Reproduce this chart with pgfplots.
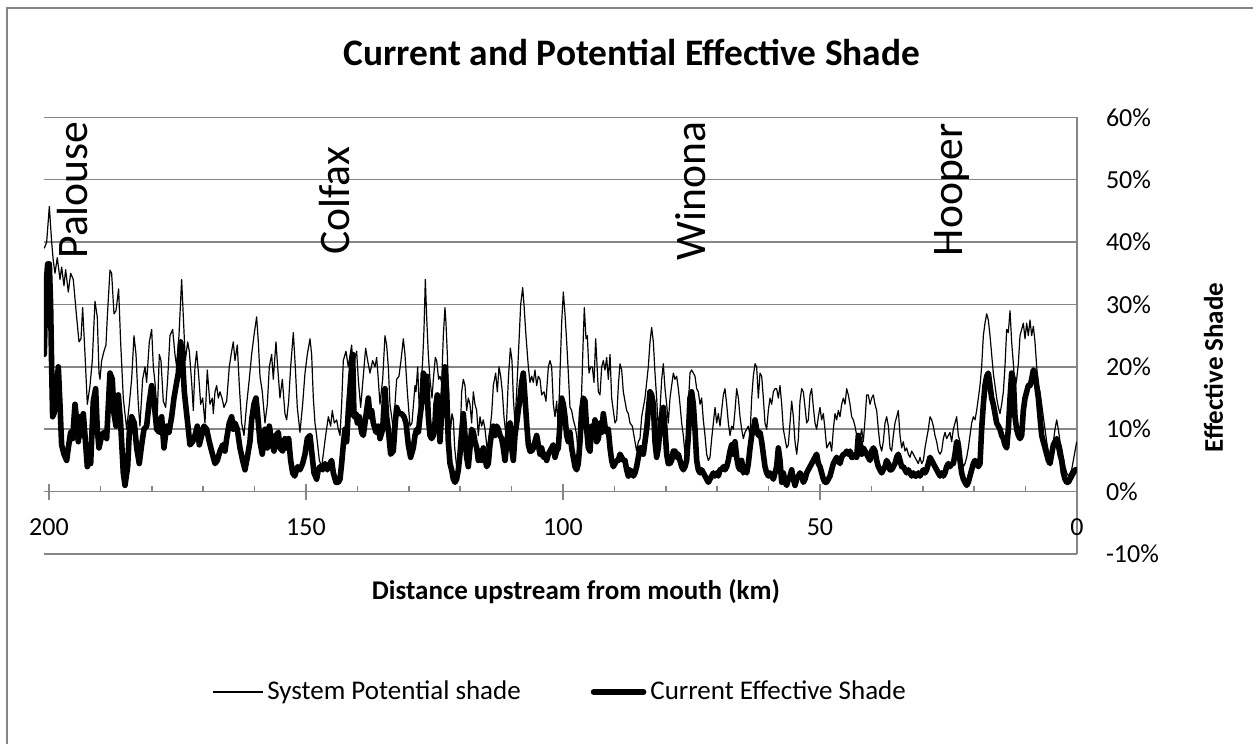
\documentclass[border=0pt]{standalone}
\usepackage{fontspec}
\setmainfont{Carlito}
\usepackage{pgfplots}
\usepackage{pgfplotstable}
\pgfplotsset{compat=1.18}
\definecolor{gridgray}{RGB}{134,134,134}

% System potential shade (km upstream, percent)
\pgfplotstableread[row sep=\\]{
d v\\
200.91 39\\ 200.45 40\\ 199.93 45.7\\ 199.48 40\\ 199.16 37\\ 198.83 35\\ 198.38 37.5\\ 197.86 34\\ 197.54 36\\ 197.08 33\\
196.76 35.6\\ 196.24 32\\ 195.78 35\\ 195.27 34\\ 194.62 28\\ 194.16 24\\ 193.77 24.5\\ 193.45 29.5\\ 192.99 22\\ 192.54 14\\
192.02 17\\ 191.57 21\\ 191.05 30.5\\ 190.60 28\\ 190.27 19\\ 190.08 18\\ 189.75 21\\ 189.30 22.5\\ 188.91 23.5\\ 188.65 28\\
188.13 35.5\\ 187.81 35\\ 187.35 28.5\\ 186.96 29\\ 186.45 32.5\\ 186.06 24\\ 185.54 15\\ 184.89 10\\ 184.37 14\\ 183.92 18\\
183.46 25\\ 183.07 22\\ 182.62 14\\ 182.30 10.5\\ 181.78 18\\ 181.32 20\\ 181.00 17.5\\ 180.48 24\\ 180.02 26\\ 179.70 20\\
179.38 17.5\\ 178.92 12.5\\ 178.53 22\\ 178.21 21\\ 177.76 14.5\\ 177.30 13.5\\ 176.91 18\\ 176.46 25\\ 175.94 26\\ 175.49 22\\
175.16 20\\ 174.71 25\\ 174.19 34\\ 173.86 28\\ 173.47 21\\ 173.02 24\\ 172.70 22.5\\ 172.24 17.5\\ 171.92 13\\ 171.60 20\\
171.27 22.5\\ 170.82 18\\ 170.49 14\\ 170.10 15\\ 169.65 11\\ 169.20 19.5\\ 168.68 14\\ 168.22 15\\ 168.03 12.5\\ 167.70 16\\
167.38 17\\ 167.05 15\\ 166.73 16\\ 166.34 15\\ 165.95 13.5\\ 165.43 14.5\\ 164.92 20\\ 164.46 22.5\\ 164.14 24\\ 163.81 21\\
163.36 23.5\\ 162.97 17\\ 162.52 11\\ 162.06 9\\ 161.54 14\\ 161.03 18\\ 160.57 22\\ 160.12 25\\ 159.60 28\\ 159.27 24\\
158.95 18.5\\ 158.50 16\\ 157.98 11\\ 157.52 14\\ 157.13 20\\ 156.68 22\\ 156.36 18\\ 155.84 24\\ 155.51 20\\ 155.06 15\\
154.60 18\\ 154.09 12.5\\ 153.76 11.5\\ 153.37 14.5\\ 152.98 20\\ 152.46 25.5\\ 152.08 20\\ 151.69 13.5\\ 151.17 9.5\\ 150.65 14\\
150.19 19\\ 149.74 22\\ 149.22 24.5\\ 148.90 22\\ 148.57 15\\ 148.25 11\\ 147.93 9\\ 147.40 5\\ 146.95 4\\ 146.63 6\\
146.17 9\\ 145.65 12\\ 145.20 10.5\\ 144.88 13\\ 144.49 11\\ 144.03 11.5\\ 143.71 10\\ 143.38 9\\ 143.06 14\\ 142.74 21\\
142.22 22.5\\ 141.76 20\\ 141.12 23.5\\ 140.79 19.5\\ 140.47 21.5\\ 140.14 22.5\\ 139.82 18\\ 139.36 13.5\\ 138.85 18.5\\ 138.39 23\\
138.00 21\\ 137.55 19\\ 137.03 21\\ 136.58 20\\ 136.25 21.5\\ 135.93 18\\ 135.60 14\\ 135.08 18\\ 134.63 25\\ 134.31 23.5\\
133.98 20\\ 133.66 14\\ 133.33 12\\ 133.01 10\\ 132.68 14\\ 132.36 18\\ 131.91 18.5\\ 131.52 21\\ 131.06 24.5\\ 130.74 22\\
130.28 16\\ 129.77 10.5\\ 129.38 11\\ 128.79 17\\ 128.60 16\\ 128.27 20\\ 127.95 13\\ 127.69 16\\ 127.30 21\\ 127.04 26\\
126.78 34\\ 126.52 28\\ 126.20 22\\ 125.87 18\\ 125.48 15\\ 125.22 18\\ 124.84 21.5\\ 124.58 21\\ 124.19 18\\ 123.93 18.5\\
123.60 17.5\\ 123.28 25\\ 122.96 29.5\\ 122.76 27\\ 122.50 22\\ 122.18 13\\ 121.85 10\\ 121.59 12.5\\ 121.33 11.5\\ 121.07 7\\
120.69 4\\ 120.36 4.5\\ 120.04 8\\ 119.71 16\\ 119.39 18\\ 119.06 17\\ 118.74 13\\ 118.42 15\\ 118.09 14\\ 117.77 11\\
117.44 16\\ 117.12 14\\ 116.79 13\\ 116.47 9\\ 116.15 12\\ 115.82 10.5\\ 115.50 11.5\\ 115.17 10\\ 114.72 6.5\\ 114.33 9\\
113.87 12.5\\ 113.55 17\\ 113.10 19\\ 112.77 16\\ 112.45 20\\ 112.12 18.5\\ 111.80 16\\ 111.48 12\\ 111.09 9\\ 110.63 18\\
110.24 23\\ 109.92 21\\ 109.66 15\\ 109.34 11\\ 109.01 16\\ 108.56 24\\ 108.23 30\\ 107.84 32.7\\ 107.59 30\\ 107.20 25\\
106.74 20\\ 106.42 17.5\\ 106.09 18.5\\ 105.77 17.5\\ 105.45 19.5\\ 105.12 17\\ 104.80 18.5\\ 104.47 18\\ 104.15 15.5\\ 103.69 16\\
103.31 14.5\\ 102.85 20\\ 102.53 21\\ 102.20 20\\ 101.88 14\\ 101.55 12\\ 101.23 14.5\\ 100.91 10\\ 100.58 19\\ 100.26 27\\
99.93 32\\ 99.61 28.5\\ 99.28 24\\ 98.96 19\\ 98.64 13.5\\ 98.31 13\\ 97.99 11.5\\ 97.66 10.5\\ 97.34 9\\ 97.02 6\\
96.69 8\\ 96.37 16\\ 96.04 25\\ 95.85 29.5\\ 95.52 24.5\\ 95.26 25\\ 94.94 19\\ 94.62 20\\ 94.29 20\\ 93.97 17.5\\
93.64 24.5\\ 93.45 21.5\\ 93.12 16\\ 92.80 15.5\\ 92.47 20\\ 92.15 21\\ 91.83 19.5\\ 91.50 21.5\\ 91.18 18\\ 90.85 22\\
90.53 15\\ 90.21 13\\ 89.88 11\\ 89.56 11.5\\ 89.23 17\\ 88.91 20.5\\ 88.58 19.5\\ 88.26 16\\ 87.94 14.5\\ 87.61 13\\
87.29 12.5\\ 86.96 11\\ 86.51 10.5\\ 85.99 8\\ 85.67 6.5\\ 85.34 8\\ 85.02 8.5\\ 84.69 12\\ 84.37 13.5\\ 84.05 15\\
83.72 17.5\\ 83.40 20\\ 83.07 24\\ 82.75 26.3\\ 82.42 24\\ 82.10 19\\ 81.78 15\\ 81.45 10\\ 81.13 13\\ 80.80 18\\
80.48 20.5\\ 80.15 16.5\\ 79.83 14\\ 79.51 11\\ 79.18 15\\ 78.86 17\\ 78.53 19\\ 78.21 18\\ 77.88 18.5\\ 77.56 16.5\\
77.24 14\\ 76.91 11\\ 76.59 9\\ 76.26 6\\ 75.94 7.5\\ 75.61 14\\ 75.29 19\\ 74.97 19.5\\ 74.64 19\\ 74.32 18.5\\
73.99 16.5\\ 73.67 16\\ 73.34 14\\ 73.02 15\\ 72.70 11.5\\ 72.37 9\\ 72.05 6\\ 71.72 5\\ 71.40 5.5\\ 71.07 8.5\\
70.75 11\\ 70.42 13.5\\ 70.10 11\\ 69.78 12.5\\ 69.45 10.5\\ 69.13 13\\ 68.80 15.5\\ 68.48 16.5\\ 68.15 14\\ 67.83 11\\
67.51 9\\ 67.18 10.5\\ 66.86 10\\ 66.53 13\\ 66.21 16.5\\ 65.88 15\\ 65.56 12\\ 65.24 10\\ 64.91 8.5\\ 64.59 9.5\\
64.26 10\\ 63.94 10.5\\ 63.61 9\\ 63.29 15\\ 62.97 18.5\\ 62.64 20.5\\ 62.32 20\\ 61.99 15\\ 61.67 19\\ 61.34 18.5\\
61.02 15\\ 60.70 11\\ 60.37 10\\ 60.05 13\\ 59.72 15\\ 59.40 14\\ 59.07 16\\ 58.75 16.5\\ 58.43 16.5\\ 58.10 15\\
57.78 17\\ 57.45 14\\ 57.13 10\\ 56.80 8.5\\ 56.48 7\\ 56.16 7.5\\ 55.83 11\\ 55.51 14.5\\ 55.18 12\\ 54.86 8\\
54.53 6\\ 54.21 8.5\\ 53.89 14.5\\ 53.56 16.5\\ 53.24 16\\ 52.91 13.5\\ 52.59 11\\ 52.27 11.5\\ 51.94 15.5\\ 51.62 16.5\\
51.29 13.5\\ 50.97 11\\ 50.65 10\\ 50.32 12\\ 50.00 13.5\\ 49.67 11.5\\ 49.35 12.5\\ 49.03 10\\ 48.70 7\\ 48.38 7.5\\
48.05 8\\ 47.73 6.5\\ 47.40 10\\ 47.08 12.5\\ 46.76 11.5\\ 46.43 13\\ 46.11 12\\ 45.78 14\\ 45.46 15\\ 45.13 14\\
44.81 16.5\\ 44.49 15.5\\ 44.16 14\\ 43.84 12\\ 43.51 11.5\\ 43.19 10.5\\ 42.86 9\\ 42.54 6.5\\ 42.22 8.5\\ 41.89 10\\
41.57 8\\ 41.24 11.5\\ 40.92 15.5\\ 40.60 15.5\\ 40.27 14\\ 39.95 15\\ 39.62 15.5\\ 39.30 14\\ 38.97 13\\ 38.65 10\\
38.33 7.5\\ 38.00 6.5\\ 37.68 8\\ 37.35 11\\ 37.03 12\\ 36.70 10.5\\ 36.38 7\\ 36.06 6.5\\ 35.73 9\\ 35.41 11\\
35.08 12\\ 34.76 13\\ 34.43 9\\ 34.11 7\\ 33.79 8\\ 33.46 6.5\\ 33.14 7\\ 32.81 6\\ 32.49 5.5\\ 32.16 6.5\\
31.84 6\\ 31.52 5.5\\ 31.19 5\\ 30.87 4.5\\ 30.54 5.5\\ 30.22 4.5\\ 29.89 5\\ 29.57 7\\ 29.25 8.5\\ 28.92 10\\
28.60 12\\ 28.27 11.5\\ 27.95 10.5\\ 27.63 9\\ 27.30 8\\ 26.98 6.5\\ 26.65 6\\ 26.33 6.5\\ 26.00 8.5\\ 25.68 9.5\\
25.36 8.5\\ 25.03 9\\ 24.71 9.5\\ 24.38 8\\ 24.06 10\\ 23.73 11\\ 23.41 12\\ 23.09 9\\ 22.76 8\\ 22.44 5\\
22.11 4\\ 21.79 4.5\\ 21.46 5.5\\ 21.14 7\\ 20.82 9\\ 20.49 11\\ 20.17 12\\ 19.84 11.5\\ 19.52 13\\ 19.19 15\\
18.87 17\\ 18.55 20\\ 18.22 25\\ 17.90 27\\ 17.57 28.5\\ 17.25 27.5\\ 16.92 25\\ 16.60 22\\ 16.28 19\\ 15.95 17\\
15.63 15\\ 15.30 13.5\\ 14.98 12.5\\ 14.65 14\\ 14.33 16\\ 14.01 20\\ 13.68 26\\ 13.36 25.5\\ 13.03 29\\ 12.71 24\\
12.38 20.5\\ 12.06 16.5\\ 11.74 18\\ 11.41 20.5\\ 11.09 25\\ 10.76 26\\ 10.44 27\\ 10.11 24.5\\ 9.79 27\\ 9.47 25\\
9.14 27.5\\ 8.82 25\\ 8.49 26.5\\ 8.17 24\\ 7.84 20\\ 7.52 17\\ 7.20 16\\ 6.87 14\\ 6.55 12\\ 6.22 10\\
5.90 8\\ 5.57 6.5\\ 5.25 6\\ 4.93 6.5\\ 4.60 8\\ 4.28 10\\ 3.95 11.5\\ 3.63 10\\ 3.30 8\\ 2.98 7\\
2.66 5.5\\ 2.33 4\\ 2.01 3\\ 1.68 2.5\\ 1.36 3\\ 1.04 3.5\\ 0.71 5\\ 0.39 6.5\\ 0.06 8\\
}\potentialshade

% Current effective shade (km upstream, percent)
\pgfplotstableread[row sep=\\]{
d v\\
200.91 22\\ 200.58 33\\ 200.26 36.5\\ 199.93 36.5\\ 199.68 30\\ 199.48 20\\ 199.29 12\\ 199.03 12.5\\ 198.64 15\\ 198.18 20\\
197.86 14\\ 197.54 7.5\\ 197.08 6\\ 196.56 5\\ 196.24 7\\ 195.78 9.5\\ 195.40 8.5\\ 194.94 14\\ 194.62 11.5\\ 194.29 8\\
193.97 12\\ 193.64 9\\ 193.32 12.5\\ 192.99 9\\ 192.54 4\\ 192.15 6.5\\ 191.89 4.5\\ 191.38 14.5\\ 190.92 16.5\\ 190.60 10\\
190.27 7\\ 189.75 9\\ 189.30 9.5\\ 188.78 8.5\\ 188.13 19\\ 187.68 18\\ 187.35 12.5\\ 186.96 10.5\\ 186.51 15.5\\ 186.06 11\\
185.54 3\\ 185.21 1\\ 184.69 4\\ 184.37 9.5\\ 183.92 12\\ 183.40 11\\ 182.94 7\\ 182.43 4.5\\ 181.97 7.5\\ 181.52 10\\
181.00 10.5\\ 180.55 14\\ 180.02 17\\ 179.57 14.5\\ 179.05 10\\ 178.53 9.5\\ 178.08 12\\ 177.63 7\\ 177.11 10.5\\ 176.65 9.5\\
176.13 12\\ 175.68 15\\ 175.16 17.5\\ 174.84 19\\ 174.38 24\\ 174.06 22\\ 173.67 16\\ 173.22 12.5\\ 172.89 10\\ 172.57 7.5\\
172.05 8\\ 171.60 9\\ 171.14 10.5\\ 170.75 7.5\\ 170.30 9\\ 169.84 10.5\\ 169.33 10\\ 168.81 8\\ 168.35 6.5\\ 167.70 4.5\\
167.25 5\\ 166.73 6.5\\ 166.21 7.5\\ 165.76 6.5\\ 165.43 8.5\\ 164.92 11\\ 164.46 12\\ 164.14 10\\ 163.81 11\\ 163.36 10\\
162.84 7\\ 162.32 5\\ 161.87 3.5\\ 161.41 5.5\\ 160.90 8\\ 160.57 11.5\\ 160.12 14\\ 159.73 15\\ 159.47 13\\ 158.95 8\\
158.50 6\\ 157.98 10\\ 157.52 7\\ 157.13 10.5\\ 156.68 8\\ 156.22 6.5\\ 155.84 9\\ 155.38 9.5\\ 155.06 7\\ 154.54 6.5\\
154.09 8.5\\ 153.76 7\\ 153.37 8.5\\ 152.98 5\\ 152.59 3\\ 152.20 2.5\\ 151.62 4\\ 151.17 3.5\\ 150.65 4.5\\ 150.19 6\\
149.74 8.5\\ 149.22 9\\ 148.90 6.5\\ 148.44 3\\ 147.93 2\\ 147.60 3.5\\ 147.27 4\\ 146.76 3.5\\ 146.30 4.5\\ 145.85 3.5\\
145.33 4.5\\ 145.01 5\\ 144.68 3\\ 144.16 1.5\\ 143.71 1.5\\ 143.38 2\\ 143.06 4.5\\ 142.74 7.5\\ 142.41 10\\ 142.09 8\\
141.76 13\\ 141.31 18\\ 140.92 22\\ 140.66 12\\ 140.27 12.5\\ 140.01 11\\ 139.62 12\\ 139.17 9.5\\ 138.85 9\\ 138.52 11\\
138.20 13\\ 137.87 15\\ 137.55 12\\ 137.22 13\\ 136.90 11\\ 136.38 9.5\\ 135.93 10.5\\ 135.60 8.5\\ 135.08 10\\ 134.63 16.5\\
134.31 12\\ 133.98 10\\ 133.53 6\\ 133.01 6.5\\ 132.68 10.5\\ 132.36 13.5\\ 131.91 12.5\\ 131.39 12.5\\ 130.93 12\\ 130.54 11\\
130.09 7.5\\ 129.64 5.5\\ 129.12 7\\ 128.79 9\\ 128.47 10\\ 128.14 9.5\\ 127.82 12\\ 127.49 14\\ 127.17 19\\ 126.85 14.5\\
126.52 18.5\\ 126.20 12\\ 125.87 9\\ 125.55 8.5\\ 125.22 9\\ 124.90 11\\ 124.71 14\\ 124.45 15.5\\ 124.12 11\\ 123.93 8\\
123.60 12.5\\ 123.28 16\\ 122.96 20\\ 122.63 16\\ 122.31 8\\ 121.98 4.5\\ 121.66 3.5\\ 121.33 2\\ 121.01 1.5\\ 120.69 2\\
120.36 3.5\\ 120.04 6\\ 119.71 9.5\\ 119.39 12.5\\ 119.06 9\\ 118.74 5.5\\ 118.42 4\\ 118.09 7\\ 117.77 10\\ 117.44 9.5\\
117.12 8\\ 116.79 7\\ 116.47 5\\ 116.15 6.5\\ 115.82 5\\ 115.50 7\\ 115.17 5.5\\ 114.85 4\\ 114.53 4.5\\ 114.20 7.5\\
113.87 9.5\\ 113.55 10.5\\ 113.23 9\\ 112.90 10.5\\ 112.58 10\\ 112.25 9\\ 111.93 8.5\\ 111.61 7\\ 111.28 5\\ 110.96 7.5\\
110.63 10\\ 110.31 11\\ 109.98 7\\ 109.66 5\\ 109.34 9\\ 109.01 11\\ 108.69 13\\ 108.36 15\\ 108.04 17.5\\ 107.72 19\\
107.39 15\\ 107.07 11\\ 106.74 7.5\\ 106.42 6.5\\ 106.09 6.5\\ 105.77 7\\ 105.45 8\\ 105.12 9\\ 104.80 7.5\\ 104.47 6\\
104.15 7\\ 103.82 5.5\\ 103.50 6\\ 103.18 5\\ 102.85 6\\ 102.53 6.5\\ 102.20 7\\ 101.88 7.5\\ 101.55 5.5\\ 101.23 6.5\\
100.91 7\\ 100.58 11\\ 100.26 15\\ 99.93 14\\ 99.61 12\\ 99.28 9\\ 98.96 8\\ 98.64 9.5\\ 98.31 7\\ 97.99 5.5\\
97.66 4\\ 97.34 3.5\\ 97.02 4.5\\ 96.69 8\\ 96.37 13\\ 96.04 15\\ 95.72 14.5\\ 95.39 10\\ 95.07 7\\ 94.75 6.5\\
94.42 10.5\\ 94.10 9\\ 93.77 11.5\\ 93.45 8\\ 93.12 8.5\\ 92.80 11\\ 92.47 9.5\\ 92.15 12.5\\ 91.83 10.5\\ 91.50 9.5\\
91.18 10\\ 90.85 7\\ 90.53 5\\ 90.21 4\\ 89.88 4.5\\ 89.56 5\\ 89.23 5\\ 88.91 6\\ 88.58 5.5\\ 88.26 5\\
87.94 5\\ 87.61 3.5\\ 87.29 2.5\\ 86.96 3.5\\ 86.64 3\\ 86.31 2.5\\ 85.99 3\\ 85.67 4\\ 85.34 5.5\\ 85.02 7\\
84.69 7\\ 84.37 6\\ 84.05 8\\ 83.72 10\\ 83.40 13\\ 83.07 16\\ 82.75 15.5\\ 82.42 14\\ 82.10 8\\ 81.78 5.5\\
81.45 7\\ 81.13 10\\ 80.80 12\\ 80.48 13.5\\ 80.15 10\\ 79.83 6\\ 79.51 4.5\\ 79.18 4.5\\ 78.86 5\\ 78.53 6.5\\
78.21 6.5\\ 77.88 5.5\\ 77.56 6\\ 77.24 5\\ 76.91 4\\ 76.59 3.5\\ 76.26 4\\ 75.94 5\\ 75.61 9\\ 75.29 15\\
74.97 16\\ 74.64 14\\ 74.32 10\\ 73.99 5\\ 73.67 3.5\\ 73.34 3\\ 73.02 3.5\\ 72.70 3\\ 72.37 2.5\\ 72.05 2\\
71.72 1.5\\ 71.40 2\\ 71.07 2.5\\ 70.75 3\\ 70.42 2.5\\ 70.10 3\\ 69.78 2.5\\ 69.45 3.5\\ 69.13 3.5\\ 68.80 4\\
68.48 3.5\\ 68.15 4\\ 67.83 5\\ 67.51 6.5\\ 67.18 7.5\\ 66.86 6\\ 66.53 8\\ 66.21 5.5\\ 65.88 4\\ 65.56 3.5\\
65.24 5\\ 64.91 3\\ 64.59 3.5\\ 64.26 3\\ 63.94 4.5\\ 63.61 7\\ 63.29 9\\ 62.97 10\\ 62.64 11.5\\ 62.32 10\\
61.99 9\\ 61.67 9.5\\ 61.34 8\\ 61.02 6\\ 60.70 4\\ 60.37 3\\ 60.05 2.5\\ 59.72 3\\ 59.40 2.5\\ 59.07 2\\
58.75 3\\ 58.43 4\\ 58.10 7\\ 57.78 5\\ 57.45 1.5\\ 57.13 3\\ 56.80 1.5\\ 56.48 1\\ 56.16 2\\ 55.83 2.5\\
55.51 3.5\\ 55.18 2\\ 54.86 1\\ 54.53 2\\ 54.21 2.5\\ 53.89 3\\ 53.56 2.5\\ 53.24 1.5\\ 52.91 2\\ 52.59 3\\
52.27 3.5\\ 51.94 4\\ 51.62 4.5\\ 51.29 5\\ 50.97 5.5\\ 50.65 6\\ 50.32 4.5\\ 50.00 4\\ 49.67 3\\ 49.35 2\\
49.03 1.5\\ 48.70 1.5\\ 48.38 2\\ 48.05 2.5\\ 47.73 3.5\\ 47.40 4.5\\ 47.08 5\\ 46.76 5.5\\ 46.43 5\\ 46.11 4.5\\
45.78 5.5\\ 45.46 6\\ 45.13 6\\ 44.81 6.5\\ 44.49 6\\ 44.16 6.5\\ 43.84 5.5\\ 43.51 5.5\\ 43.19 6\\ 42.86 5.5\\
42.54 9\\ 42.22 8\\ 41.89 6\\ 41.57 7\\ 41.24 6.5\\ 40.92 6\\ 40.60 5.5\\ 40.27 5\\ 39.95 6.5\\ 39.62 7\\
39.30 6.5\\ 38.97 5\\ 38.65 4\\ 38.33 3.5\\ 38.00 3\\ 37.68 3.5\\ 37.35 4\\ 37.03 5\\ 36.70 4.5\\ 36.38 3.5\\
36.06 3.5\\ 35.73 4\\ 35.41 4.5\\ 35.08 5.5\\ 34.76 6\\ 34.43 5\\ 34.11 4\\ 33.79 4\\ 33.46 3.5\\ 33.14 3\\
32.81 3.5\\ 32.49 3\\ 32.16 2.5\\ 31.84 3\\ 31.52 2.5\\ 31.19 2.5\\ 30.87 3\\ 30.54 2.5\\ 30.22 3\\ 29.89 3.5\\
29.57 3\\ 29.25 3.5\\ 28.92 4.5\\ 28.60 5.5\\ 28.27 5\\ 27.95 4.5\\ 27.63 4\\ 27.30 3.5\\ 26.98 3\\ 26.65 2.5\\
26.33 3\\ 26.00 2.5\\ 25.68 3\\ 25.36 4\\ 25.03 4.5\\ 24.71 4\\ 24.38 4.5\\ 24.06 4.5\\ 23.73 6\\ 23.41 8\\
23.09 7.5\\ 22.76 5\\ 22.44 3\\ 22.11 2\\ 21.79 1.5\\ 21.46 1\\ 21.14 1.5\\ 20.82 2.5\\ 20.49 3.5\\ 20.17 4.5\\
19.84 5\\ 19.52 4.5\\ 19.19 4\\ 18.87 4.5\\ 18.55 10\\ 18.22 14\\ 17.90 17\\ 17.57 18.5\\ 17.25 19\\ 16.92 17\\
16.60 15\\ 16.28 14\\ 15.95 12.5\\ 15.63 11\\ 15.30 10.5\\ 14.98 10\\ 14.65 9\\ 14.33 8.5\\ 14.01 7.5\\ 13.68 7\\
13.36 10\\ 13.03 15\\ 12.71 19\\ 12.38 18\\ 12.06 12\\ 11.74 10\\ 11.41 9\\ 11.09 8.5\\ 10.76 9\\ 10.44 13\\
10.11 15\\ 9.79 16\\ 9.47 17\\ 9.14 17\\ 8.82 18\\ 8.49 19.5\\ 8.17 19\\ 7.84 17\\ 7.52 15\\ 7.20 12\\
6.87 9\\ 6.55 8\\ 6.22 7\\ 5.90 6\\ 5.57 5\\ 5.25 4.5\\ 4.93 6\\ 4.60 7.5\\ 4.28 8\\ 3.95 8.5\\
3.63 7.5\\ 3.30 6\\ 2.98 5\\ 2.66 3\\ 2.33 2\\ 2.01 1.5\\ 1.68 1.5\\ 1.36 2\\ 1.04 2.5\\ 0.71 3\\
0.39 3.5\\ 0.06 3.5\\
}\currentshade

\begin{document}
\begin{tikzpicture}
\useasboundingbox (0,0) rectangle (626.5bp,-372bp);
% chart frame (top and left edges)
\draw[gridgray, line width=0.9bp] (3.6bp,-372bp) -- (3.6bp,-4bp) -- (626.5bp,-4bp);
\begin{axis}[
  at={(22bp,-277bp)}, anchor=south west,
  scale only axis, width=516.5bp, height=218.35bp,
  x dir=reverse, xmin=0, xmax=200.97, ymin=-10, ymax=60,
  axis x line=middle, axis y line=right,
  hide obscured x ticks=false,
  every inner x axis line/.append style={-},
  every outer y axis line/.append style={-},
  every outer x axis line/.append style={-},
  every inner y axis line/.append style={-},
  axis line style={gridgray, line width=0.75bp},
  xtick={0,50,100,150,200},
  extra x ticks={10,20,30,40,60,70,80,90,110,120,130,140,160,170,180,190},
  extra x tick labels={},
  extra x tick style={xtick align=inside, major tick length=3bp},
  xtick align=center, major tick length=8bp,
  xtick style={gridgray, line width=0.75bp},
  ytick={-10,0,10,20,30,40,50,60},
  yticklabels={-10\%,0\%,10\%,20\%,30\%,40\%,50\%,60\%},
  ytick style={draw=none},
  ymajorgrids, grid style={gridgray, line width=0.8bp},
  /pgf/number format/assume math mode=true,
  tick label style={font=\fontsize{13bp}{15bp}\selectfont, black},
  xticklabel style={yshift=-5.75bp},
  yticklabel style={anchor=west, xshift=7bp},
  title={Current and Potential Effective Shade},
  title style={at={(axis description cs:0.5692,1.0923)}, anchor=base, yshift=0pt,
    font=\fontsize{18.7bp}{22bp}\selectfont\bfseries},
  xlabel={Distance upstream from mouth (km)},
  xlabel style={at={(axis description cs:0.515,-0.1053)}, anchor=base,
    font=\fontsize{13.5bp}{16bp}\selectfont\bfseries},
  ylabel={Effective Shade},
  ylabel style={at={(axis description cs:1.1413,0.4271)}, anchor=base, rotate=0,
    font=\fontsize{13.5bp}{16bp}\selectfont\bfseries},
  legend columns=2,
  legend style={at={(axis description cs:0.5005,-0.3158)}, anchor=center,
    draw=none, fill=none, font=\fontsize{13.5bp}{15bp}\selectfont,
    /tikz/every even column/.append style={column sep=33bp}},
  legend image code/.code={\draw[#1] (0bp,0bp) -- (25bp,0bp);},
  clip=true,
]
\addplot[black, line width=0.6bp, line join=round] table[x=d, y=v] {\potentialshade};
\addlegendentry{System Potential shade}
\addplot[black, line width=2.8bp, line join=round, line cap=round] table[x=d, y=v] {\currentshade};
\addlegendentry{Current Effective Shade}

% town names along the river
\tikzset{town/.style={rotate=90, anchor=base west, inner sep=0pt, font=\fontsize{21.8bp}{24bp}\selectfont}}
\node[town] at (axis cs:192.6,37.3) {Palouse};
\node[town] at (axis cs:141.6,37.9) {Colfax};
\node[town] at (axis cs:72.2,37.0) {Winona};
\node[town] at (axis cs:22.2,37.7) {Hooper};
\end{axis}
\end{tikzpicture}
\end{document}
